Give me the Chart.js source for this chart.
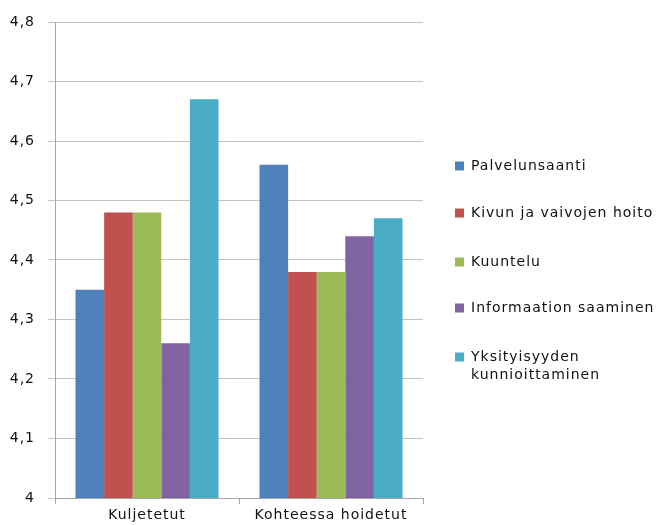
<!DOCTYPE html>
<html>
<head>
<meta charset="utf-8">
<script src="https://cdn.jsdelivr.net/npm/chart.js@4/dist/chart.umd.min.js"></script>
<style>
html,body{margin:0;padding:0;background:#fff;}
#wrap{width:660px;height:525px;position:relative;}
</style>
</head>
<body>
<div id="wrap"><canvas id="c" width="660" height="525"></canvas></div>
<script>
const categories = ["Kuljetetut", "Kohteessa hoidetut"];
const seriesNames = ["Palvelunsaanti", "Kivun ja vaivojen hoito", "Kuuntelu", "Informaation saaminen", ["Yksityisyyden", "kunnioittaminen"]];
const palvelunsaanti = [4.35, 4.56];
const kivunHoito = [4.48, 4.38];
const kuuntelu = [4.48, 4.38];
const informaatio = [4.26, 4.44];
const yksityisyys = [4.67, 4.47];
const yTicks = [4, 4.1, 4.2, 4.3, 4.4, 4.5, 4.6, 4.7, 4.8];
const colors = ["#4F81BD", "#C0504D", "#9BBB59", "#8064A2", "#4BACC6"];

const FONT = "DejaVu Sans";
const SPACING = '1px';
const seriesValues = [palvelunsaanti, kivunHoito, kuuntelu, informaatio, yksityisyys];

const spacingPlugin = {
  id: 'spacing',
  beforeDraw(chart) { chart.ctx.letterSpacing = SPACING; }
};

const legendPlugin = {
  id: 'sideLegend',
  afterDraw(chart) {
    const ctx = chart.ctx;
    const ys = [166, 213, 262, 308, 357];
    ctx.save();
    ctx.letterSpacing = SPACING;
    ctx.font = "14px '" + FONT + "'";
    ctx.textBaseline = 'middle';
    ctx.textAlign = 'left';
    chart.data.datasets.forEach((ds, i) => {
      const y = ys[i];
      ctx.fillStyle = ds.backgroundColor;
      ctx.fillRect(455, y - 4.5, 9, 9);
      ctx.fillStyle = '#111';
      const lines = Array.isArray(ds.legendText) ? ds.legendText : [ds.legendText];
      lines.forEach((t, k) => ctx.fillText(t, 471, y + k * 18));
    });
    ctx.restore();
  }
};

new Chart(document.getElementById('c'), {
  type: 'bar',
  data: {
    labels: categories,
    datasets: seriesValues.map((v, i) => ({
      label: Array.isArray(seriesNames[i]) ? seriesNames[i].join(' ') : seriesNames[i],
      legendText: seriesNames[i],
      data: v,
      backgroundColor: colors[i],
      borderWidth: 0,
      categoryPercentage: 0.777,
      barPercentage: 1.0
    }))
  },
  options: {
    responsive: false,
    animation: false,
    devicePixelRatio: 1,
    layout: { padding: { left: 0, right: 237, top: 22, bottom: 0 } },
    plugins: { legend: { display: false }, tooltip: { enabled: false } },
    scales: {
      x: {
        afterFit: s => { s.height = 27; },
        grid: { drawOnChartArea: false, drawTicks: true, tickLength: 6, color: '#a6a6a6' },
        border: { color: '#a6a6a6', width: 1 },
        ticks: { color: '#111', font: { family: FONT, size: 14 }, padding: 3 }
      },
      y: {
        min: 4, max: 4.8,
        afterFit: s => { s.width = 55; },
        afterBuildTicks: s => { s.ticks = yTicks.map(v => ({ value: v })); },
        grid: { color: '#c4c4c4', tickLength: 7, tickColor: '#c4c4c4' },
        border: { color: '#a6a6a6', width: 1 },
        ticks: {
          color: '#111', font: { family: FONT, size: 14 }, padding: 13,
          callback: v => String(v).replace('.', ',')
        }
      }
    }
  },
  plugins: [spacingPlugin, legendPlugin]
});
</script>
</body>
</html>
